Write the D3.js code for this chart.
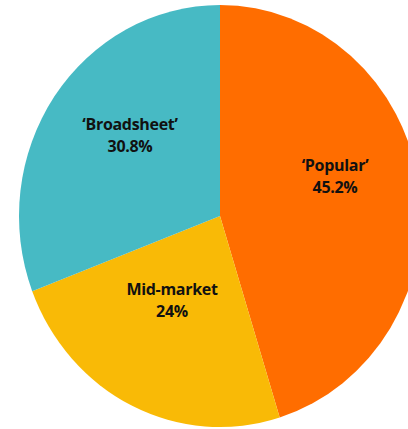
<!DOCTYPE html>
<html>
<head>
<meta charset="utf-8">
<script src="https://cdn.jsdelivr.net/npm/d3@7"></script>
<style>
html,body{margin:0;padding:0;background:#fff;overflow:hidden;}
svg{display:block;}
</style>
</head>
<body>
<svg id="chart" width="408" height="429"></svg>
<script>
const categories = ["‘Popular’", "Mid-market", "‘Broadsheet’"];
const values = [45.2, 24, 30.8];
const valueLabels = ["45.2%", "24%", "30.8%"];
const colors = ["#FF6D00", "#F9BA06", "#47BAC4"];

const svg = d3.select("#chart");
const cx = 220, cy = 216, ry = 211, rx = 201;

const pie = d3.pie().sort(null).value(d => d);
const arcs = pie(values);
const arc = d3.arc().innerRadius(0).outerRadius(ry);

const g = svg.append("g").attr("transform", `translate(${cx},${cy}) scale(${rx/ry},1)`);
g.selectAll("path").data(arcs).enter().append("path")
  .attr("d", arc)
  .attr("fill", (d,i) => colors[i]);

const labelPos = [
  [335, 171],
  [172, 295],
  [130, 130]
];
const lg = svg.append("g");
arcs.forEach((a, i) => {
  const t = lg.append("text")
    .attr("text-anchor", "middle")
    .attr("font-family", "'Open Sans', 'Noto Sans', sans-serif")
    .attr("font-weight", 700)
    .attr("font-size", 16)
    .attr("letter-spacing", -0.3)
    .attr("fill", "#111");
  t.append("tspan").attr("x", labelPos[i][0]).attr("y", labelPos[i][1]).text(categories[i]);
  t.append("tspan").attr("x", labelPos[i][0]).attr("y", labelPos[i][1] + 21.5).text(valueLabels[i]);
});
</script>
</body>
</html>
